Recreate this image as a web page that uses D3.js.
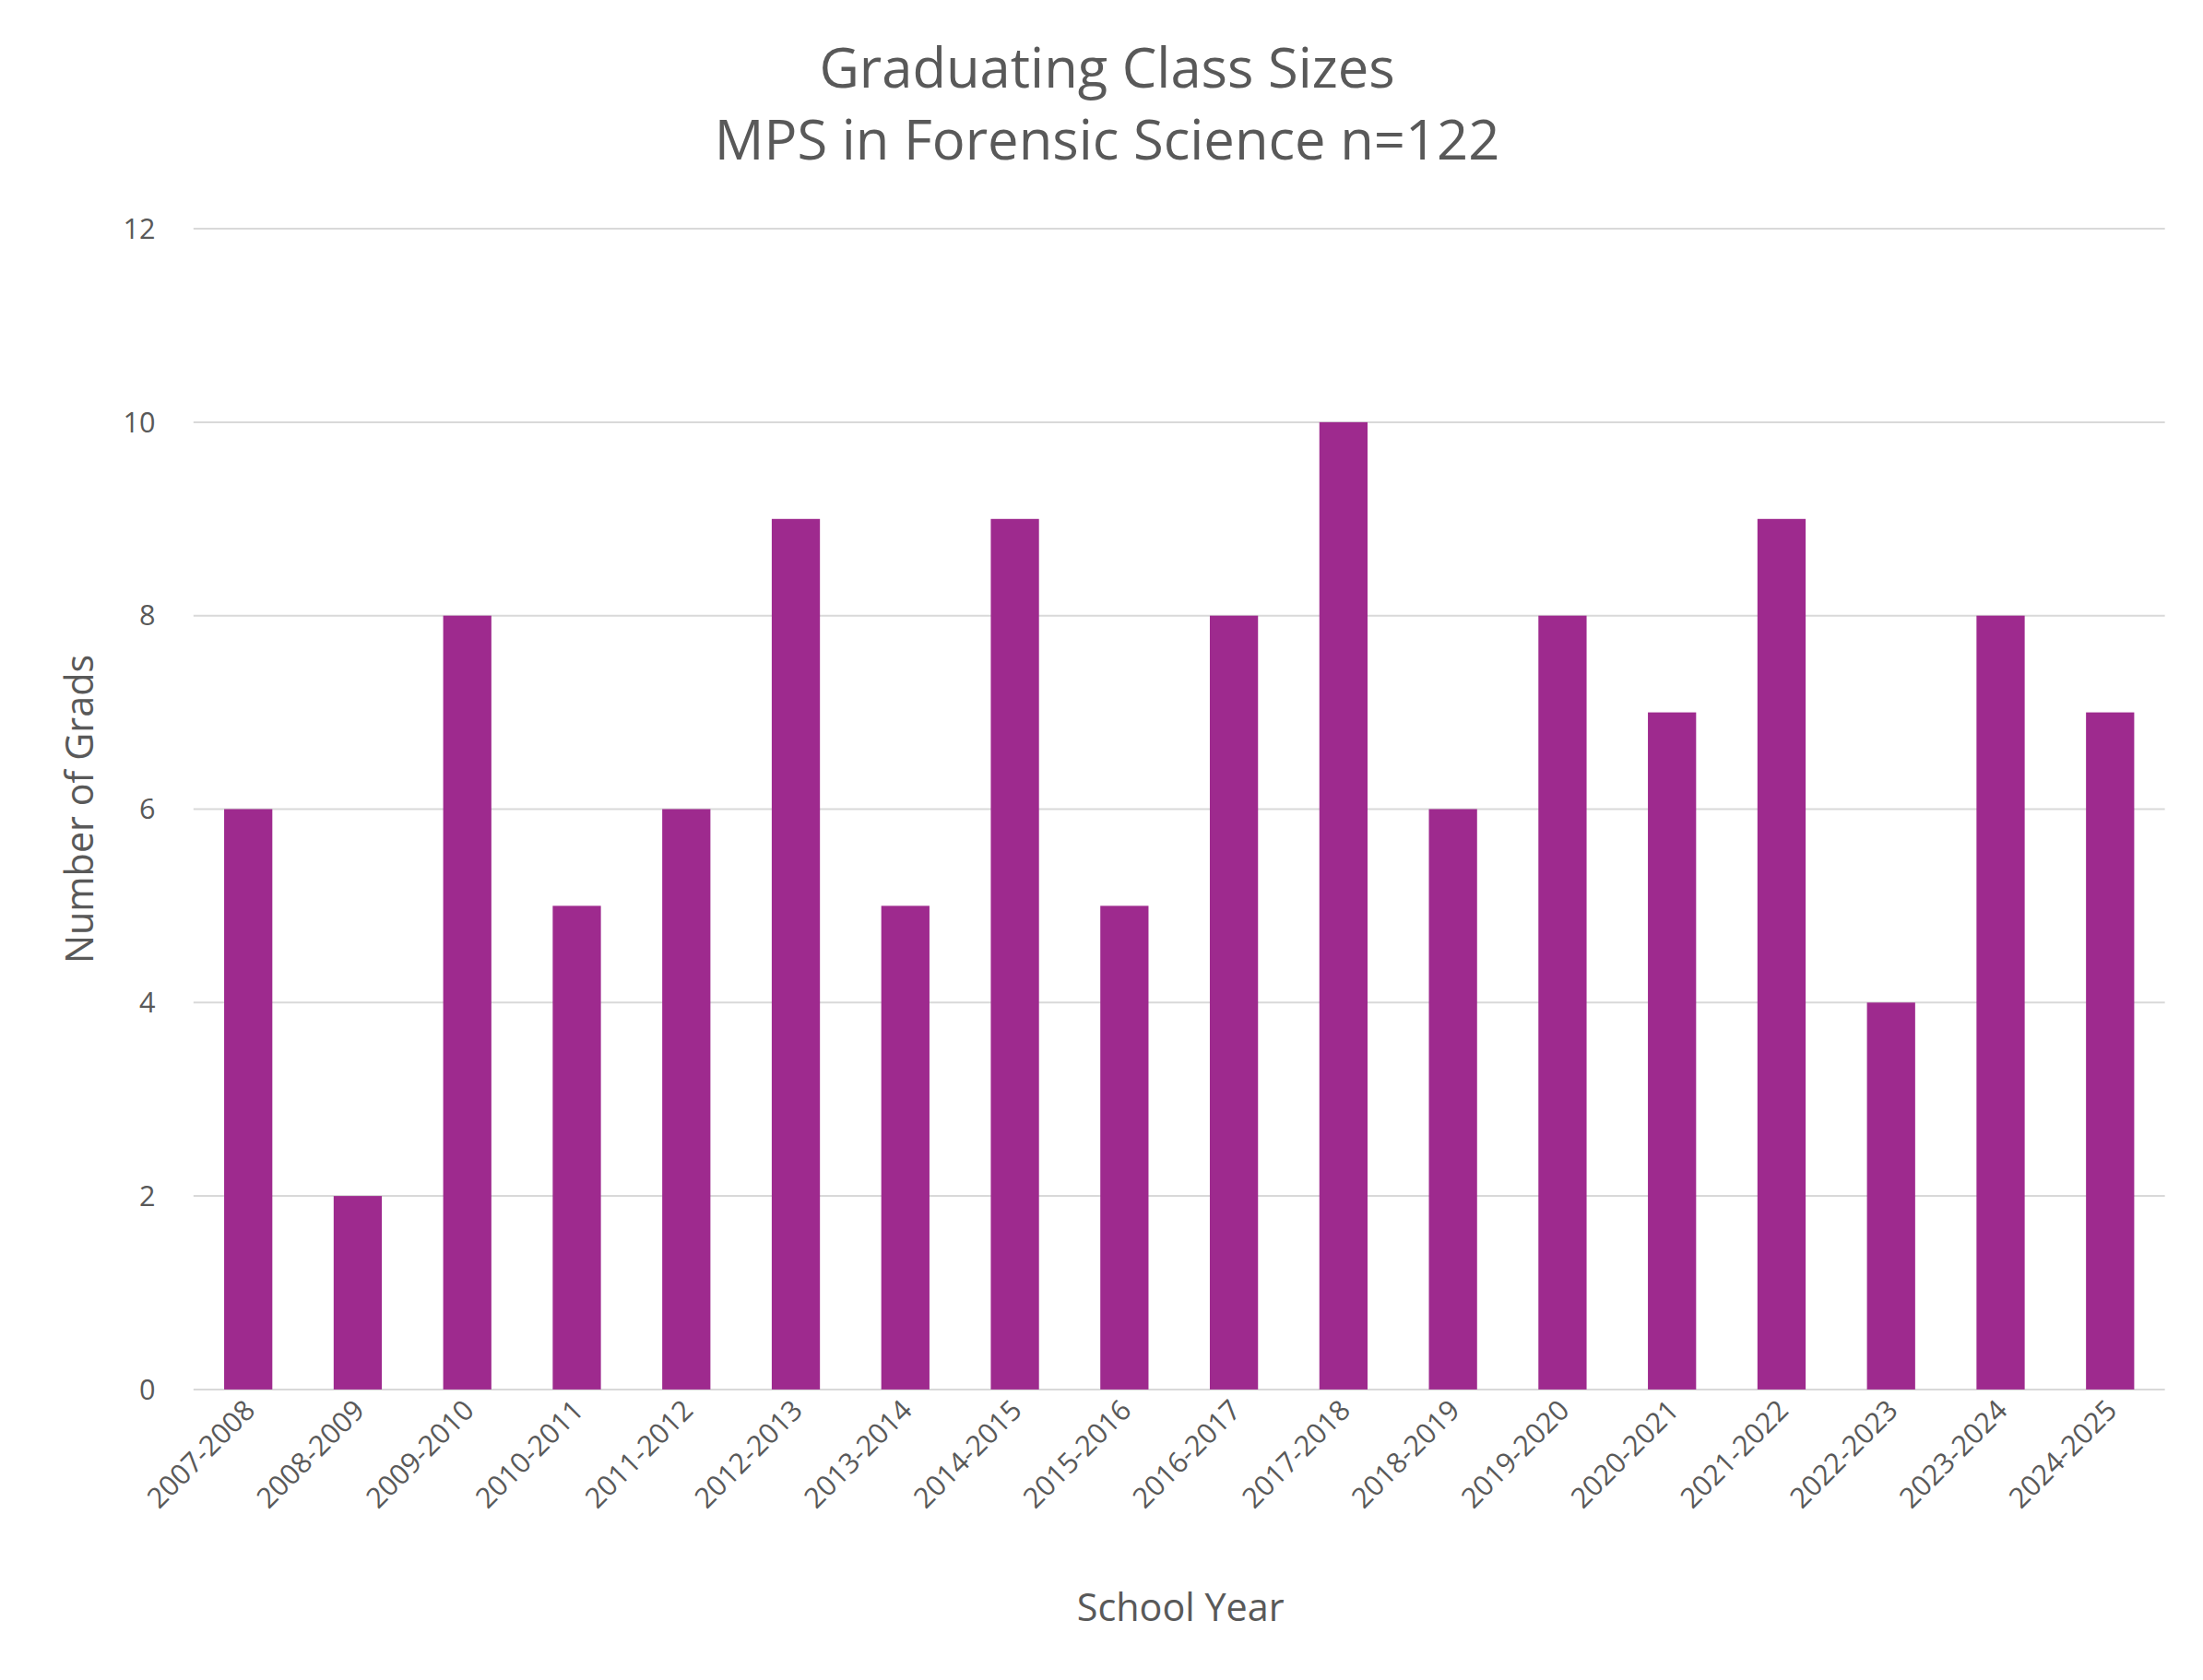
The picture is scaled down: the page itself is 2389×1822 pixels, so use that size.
<!DOCTYPE html>
<html lang="en">
<head>
<meta charset="utf-8">
<title>Graduating Class Sizes</title>
<script src="https://cdn.jsdelivr.net/npm/d3@7"></script>
<style>
  body { margin: 0; background: #fff; }
  text { font-family: "Open Sans", "Noto Sans", sans-serif; fill: #595959; }
</style>
</head>
<body>
<script>
var years = ["2007-2008","2008-2009","2009-2010","2010-2011","2011-2012","2012-2013",
             "2013-2014","2014-2015","2015-2016","2016-2017","2017-2018","2018-2019",
             "2019-2020","2020-2021","2021-2022","2022-2023","2023-2024","2024-2025"];
var grads = [6,2,8,5,6,9,5,9,5,8,10,6,8,7,9,4,8,7];
var yTicks = [0,2,4,6,8,10,12];

var W = 2389, H = 1822, s = W / 1560;
var plotLeft = 137 * s, plotRight = 1533 * s, plotTop = 162 * s, plotBottom = 984 * s;

var svg = d3.select("body").append("svg").attr("width", W).attr("height", H);

var x = d3.scaleBand().domain(years).range([plotLeft, plotRight]).paddingInner(0.56).paddingOuter(0.28);
var y = d3.scaleLinear().domain([0, 12]).range([plotBottom, plotTop]);

// gridlines
svg.selectAll("line.grid").data(yTicks).enter().append("line")
  .attr("x1", plotLeft).attr("x2", plotRight)
  .attr("y1", d => y(d)).attr("y2", d => y(d))
  .attr("stroke", "#d9d9d9").attr("stroke-width", 2);

svg.selectAll("text.ytick").data(yTicks).enter().append("text")
  .attr("x", 110 * s).attr("y", d => y(d)).attr("dy", "0.35em")
  .attr("text-anchor", "end").attr("font-size", 20 * s).text(d => d);

// bars
svg.selectAll("rect").data(grads).enter().append("rect")
  .attr("x", (d, i) => x(years[i])).attr("width", x.bandwidth())
  .attr("y", d => y(d)).attr("height", d => y(0) - y(d))
  .attr("fill", "#9e2a8e");

// x labels
svg.selectAll("text.xtick").data(years).enter().append("text")
  .attr("transform", d => "translate(" + (x(d) + x.bandwidth() / 2 + 6 * s) + "," + (1000 * s) + ") rotate(-45)")
  .attr("text-anchor", "end").attr("font-size", 20 * s).text(d => d);

// titles
svg.append("text").attr("x", 784 * s).attr("y", 62 * s).attr("text-anchor", "middle")
  .attr("font-size", 39 * s).text("Graduating Class Sizes");
svg.append("text").attr("x", 784 * s).attr("y", 113 * s).attr("text-anchor", "middle")
  .attr("font-size", 39 * s).text("MPS in Forensic Science n=122");
svg.append("text").attr("x", 836 * s).attr("y", 1148 * s).attr("text-anchor", "middle")
  .attr("font-size", 27 * s).text("School Year");
svg.append("text").attr("transform", "translate(" + (66 * s) + "," + (573 * s) + ") rotate(-90)")
  .attr("text-anchor", "middle").attr("font-size", 27 * s).text("Number of Grads");
</script>
</body>
</html>
